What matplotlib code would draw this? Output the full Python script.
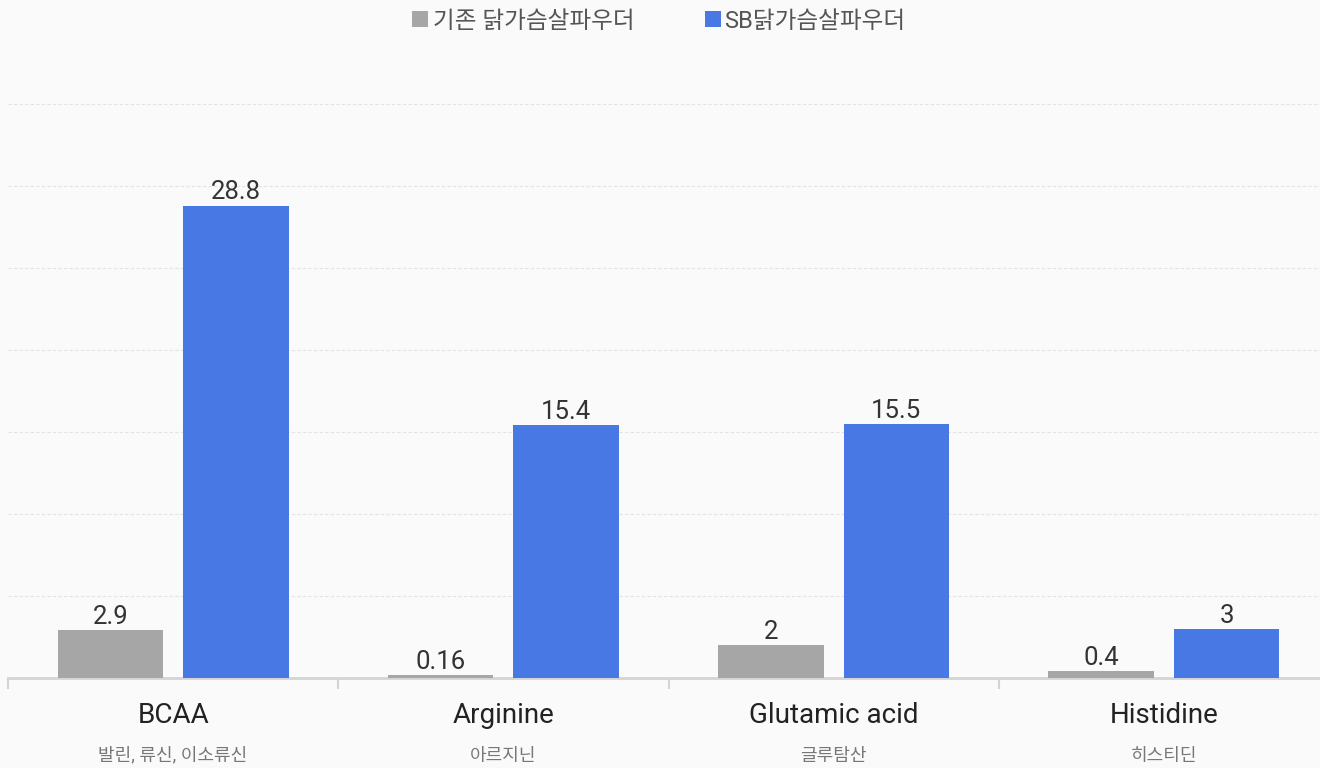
import matplotlib
matplotlib.use("Agg")
import matplotlib.pyplot as plt
from matplotlib.patches import Rectangle
import numpy as np

plt.rcParams['font.family'] = ['Roboto', 'Noto Sans CJK KR', 'DejaVu Sans']

categories = ["BCAA", "Arginine", "Glutamic acid", "Histidine"]
subtitles = ["발린, 류신, 이소류신", "아르지닌", "글루탐산", "히스티딘"]
series_names = ["기존 닭가슴살파우더", "SB닭가슴살파우더"]
regular = [2.9, 0.16, 2, 0.4]
sb = [28.8, 15.4, 15.5, 3]
value_labels_regular = ["2.9", "0.16", "2", "0.4"]
value_labels_sb = ["28.8", "15.4", "15.5", "3"]

gray = "#a6a6a6"
blue = "#4778e3"
bg = "#fafafa"

W, H = 1320, 768
fig = plt.figure(figsize=(W / 100, H / 100), dpi=100, facecolor=bg)
left, right = 8 / W, 1329 / W
bottom, top = 1 - 678 / H, 1 - 104 / H
ax = fig.add_axes([left, bottom, right - left, top - bottom], facecolor=bg)

x = np.arange(len(categories))
width = 0.32
offset = 0.19
b1 = ax.bar(x - offset, regular, width, color=gray, zorder=3)
b2 = ax.bar(x + offset, sb, width, color=blue, zorder=3)

for bars, labels in ((b1, value_labels_regular), (b2, value_labels_sb)):
    for rect, lab in zip(bars, labels):
        ax.annotate(lab, (rect.get_x() + rect.get_width() / 2, rect.get_height()),
                    xytext=(0, 4.5), textcoords="offset points",
                    ha="center", va="baseline", fontsize=18.5, color="#333333")

ax.set_xlim(-0.5, len(categories) - 0.5)
ax.set_ylim(0, 35)
ax.set_yticks(np.arange(5, 36, 5))
ax.yaxis.grid(True, color="#e3e3e3", linestyle=(0, (3, 2)), linewidth=0.8, zorder=0)
ax.tick_params(axis="y", left=False, labelleft=False)

ax.set_xticks(np.arange(-0.5, len(categories), 1))
ax.tick_params(axis="x", length=8, width=1.5, color="#d4d4d4", labelbottom=False)

for s in ("left", "right", "top"):
    ax.spines[s].set_visible(False)
ax.spines["bottom"].set_color("#d4d4d4")
ax.spines["bottom"].set_linewidth(2)

for xi, cat, sub in zip(x, categories, subtitles):
    ax.annotate(cat, (xi, 0), xycoords=("data", "axes fraction"),
                xytext=(0, -32.4), textcoords="offset points",
                ha="center", va="baseline", fontsize=20, color="#222222")
    ax.annotate(sub, (xi, 0), xycoords=("data", "axes fraction"),
                xytext=(0, -59.5), textcoords="offset points",
                ha="center", va="baseline", fontsize=13, color="#777777")

# legend: coloured squares followed by series names
for sq_x, txt_x, color, name in ((412, 433, gray, series_names[0]),
                                 (705, 724, blue, series_names[1])):
    fig.add_artist(Rectangle((sq_x / W, 1 - 27 / H), 16 / W, 16 / H,
                             transform=fig.transFigure, color=color, lw=0))
    fig.text(txt_x / W, 1 - 28 / H, name, fontsize=17, color="#555555",
             ha="left", va="baseline")

fig.savefig("out.png", dpi=100, facecolor=bg)
